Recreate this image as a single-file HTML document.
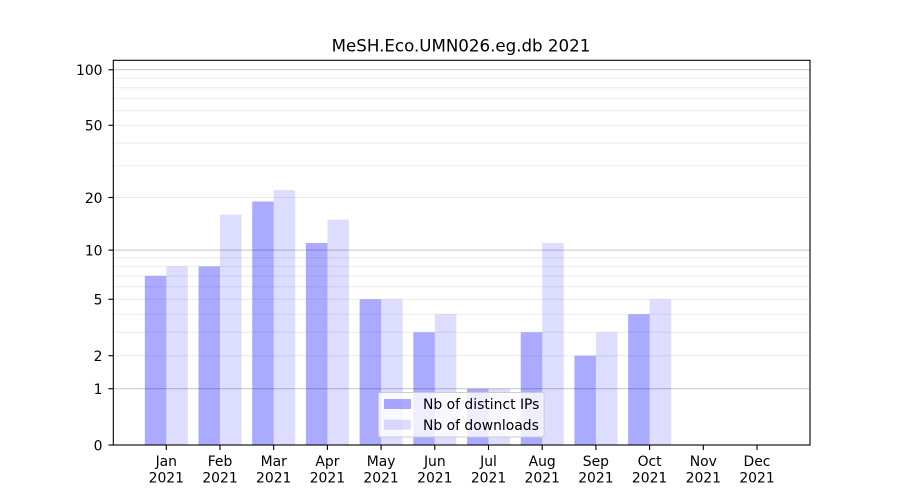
<!DOCTYPE html>
<html><head><meta charset="utf-8"><style>
html,body{margin:0;padding:0;background:#fff;}
svg{display:block;font-family:"DejaVu Sans","Liberation Sans",sans-serif;}
</style></head><body>
<svg width="900" height="500" viewBox="0 0 900 500" xmlns="http://www.w3.org/2000/svg">
<rect width="900" height="500" fill="#fff"/>
<!-- minor grid -->
<g stroke="#ebebeb" stroke-width="1">
<line x1="113" x2="810" y1="355.7" y2="355.7"/>
<line x1="113" x2="810" y1="332.3" y2="332.3"/>
<line x1="113" x2="810" y1="314.2" y2="314.2"/>
<line x1="113" x2="810" y1="299.3" y2="299.3"/>
<line x1="113" x2="810" y1="286.8" y2="286.8"/>
<line x1="113" x2="810" y1="275.9" y2="275.9"/>
<line x1="113" x2="810" y1="266.4" y2="266.4"/>
<line x1="113" x2="810" y1="257.8" y2="257.8"/>
<line x1="113" x2="810" y1="197.5" y2="197.5"/>
<line x1="113" x2="810" y1="165.8" y2="165.8"/>
<line x1="113" x2="810" y1="143.1" y2="143.1"/>
<line x1="113" x2="810" y1="125.3" y2="125.3"/>
<line x1="113" x2="810" y1="110.8" y2="110.8"/>
<line x1="113" x2="810" y1="98.4" y2="98.4"/>
<line x1="113" x2="810" y1="87.7" y2="87.7"/>
<line x1="113" x2="810" y1="78.3" y2="78.3"/>
</g>
<!-- major grid -->
<g stroke="#c4c4c4" stroke-width="1">
<line x1="113" x2="810" y1="388.7" y2="388.7"/>
<line x1="113" x2="810" y1="250.1" y2="250.1"/>
<line x1="113" x2="810" y1="69.8" y2="69.8"/>
</g>
<!-- bars IPs -->
<g fill="#0000ff" fill-opacity="0.333">
<rect x="144.8" y="275.9" width="21.5" height="169.1"/>
<rect x="198.5" y="266.4" width="21.5" height="178.6"/>
<rect x="252.2" y="201.5" width="21.5" height="243.5"/>
<rect x="305.9" y="243.0" width="21.5" height="202.0"/>
<rect x="359.6" y="299.3" width="21.5" height="145.7"/>
<rect x="413.3" y="332.3" width="21.5" height="112.7"/>
<rect x="467.0" y="388.7" width="21.5" height="56.3"/>
<rect x="520.7" y="332.3" width="21.5" height="112.7"/>
<rect x="574.4" y="355.7" width="21.5" height="89.3"/>
<rect x="628.1" y="314.2" width="21.5" height="130.8"/>
</g>
<!-- bars downloads -->
<g fill="#0000ff" fill-opacity="0.133">
<rect x="166.3" y="266.4" width="21.5" height="178.6"/>
<rect x="220.0" y="214.7" width="21.5" height="230.3"/>
<rect x="273.7" y="190.1" width="21.5" height="254.9"/>
<rect x="327.4" y="219.6" width="21.5" height="225.4"/>
<rect x="381.1" y="299.3" width="21.5" height="145.7"/>
<rect x="434.8" y="314.2" width="21.5" height="130.8"/>
<rect x="488.5" y="388.7" width="21.5" height="56.3"/>
<rect x="542.2" y="243.0" width="21.5" height="202.0"/>
<rect x="595.9" y="332.3" width="21.5" height="112.7"/>
<rect x="649.6" y="299.3" width="21.5" height="145.7"/>
</g>
<!-- axes frame -->
<rect x="113.3" y="60.3" width="696.7" height="384.7" fill="none" stroke="#000" stroke-width="1.1"/>
<!-- y ticks -->
<g stroke="#000" stroke-width="1.1">
<line x1="108.4" x2="113.3" y1="445" y2="445"/>
<line x1="108.4" x2="113.3" y1="388.7" y2="388.7"/>
<line x1="108.4" x2="113.3" y1="355.7" y2="355.7"/>
<line x1="108.4" x2="113.3" y1="299.3" y2="299.3"/>
<line x1="108.4" x2="113.3" y1="250.1" y2="250.1"/>
<line x1="108.4" x2="113.3" y1="197.5" y2="197.5"/>
<line x1="108.4" x2="113.3" y1="125.3" y2="125.3"/>
<line x1="108.4" x2="113.3" y1="69.8" y2="69.8"/>
</g>
<g font-size="13.9" fill="#000" text-anchor="end">
<text x="102.5" y="450.3">0</text>
<text x="102.5" y="394">1</text>
<text x="102.5" y="361">2</text>
<text x="102.5" y="304.6">5</text>
<text x="102.5" y="255.4">10</text>
<text x="102.5" y="202.8">20</text>
<text x="102.5" y="130.6">50</text>
<text x="102.5" y="75.1">100</text>
</g>
<!-- x ticks -->
<g stroke="#000" stroke-width="1.1">
<line x1="166.3" x2="166.3" y1="445" y2="450"/>
<line x1="220.0" x2="220.0" y1="445" y2="450"/>
<line x1="273.7" x2="273.7" y1="445" y2="450"/>
<line x1="327.4" x2="327.4" y1="445" y2="450"/>
<line x1="381.1" x2="381.1" y1="445" y2="450"/>
<line x1="434.8" x2="434.8" y1="445" y2="450"/>
<line x1="488.5" x2="488.5" y1="445" y2="450"/>
<line x1="542.2" x2="542.2" y1="445" y2="450"/>
<line x1="595.9" x2="595.9" y1="445" y2="450"/>
<line x1="649.6" x2="649.6" y1="445" y2="450"/>
<line x1="703.3" x2="703.3" y1="445" y2="450"/>
<line x1="757.0" x2="757.0" y1="445" y2="450"/>
</g>
<g font-size="13.9" fill="#000" text-anchor="middle">
<text x="166.3" y="466.1">Jan</text><text x="166.3" y="482.3">2021</text>
<text x="220.0" y="466.1">Feb</text><text x="220.0" y="482.3">2021</text>
<text x="273.7" y="466.1">Mar</text><text x="273.7" y="482.3">2021</text>
<text x="327.4" y="466.1">Apr</text><text x="327.4" y="482.3">2021</text>
<text x="381.1" y="466.1">May</text><text x="381.1" y="482.3">2021</text>
<text x="434.8" y="466.1">Jun</text><text x="434.8" y="482.3">2021</text>
<text x="488.5" y="466.1">Jul</text><text x="488.5" y="482.3">2021</text>
<text x="542.2" y="466.1">Aug</text><text x="542.2" y="482.3">2021</text>
<text x="595.9" y="466.1">Sep</text><text x="595.9" y="482.3">2021</text>
<text x="649.6" y="466.1">Oct</text><text x="649.6" y="482.3">2021</text>
<text x="703.3" y="466.1">Nov</text><text x="703.3" y="482.3">2021</text>
<text x="757.0" y="466.1">Dec</text><text x="757.0" y="482.3">2021</text>
</g>
<!-- title -->
<text x="461" y="51.7" font-size="16.67" text-anchor="middle" fill="#000">MeSH.Eco.UMN026.eg.db 2021</text>
<!-- legend -->
<rect x="378.5" y="392.5" width="165.5" height="44.5" rx="2.5" ry="2.5" fill="#fff" fill-opacity="0.8" stroke="#cccccc" stroke-width="1"/>
<rect x="384" y="399" width="27" height="10" fill="#0000ff" fill-opacity="0.333"/>
<rect x="384" y="419.7" width="27" height="10" fill="#0000ff" fill-opacity="0.133"/>
<g font-size="13.9" fill="#000">
<text x="423" y="409">Nb of distinct IPs</text>
<text x="423" y="430">Nb of downloads</text>
</g>
</svg>
</body></html>
